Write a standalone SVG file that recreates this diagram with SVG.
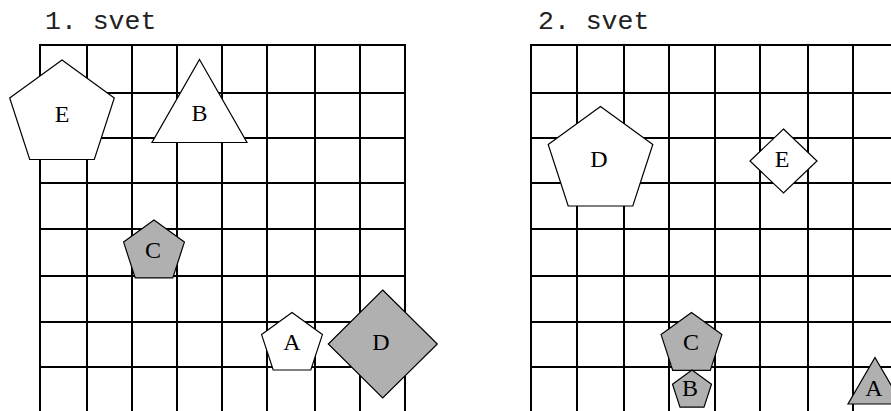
<svg xmlns="http://www.w3.org/2000/svg" width="891" height="411" viewBox="0 0 891 411">
<style>
.grid line{stroke:#000;stroke-width:2}
.shape{stroke:#000;stroke-width:1.2;stroke-linejoin:miter}
.white{fill:#fff}
.gray{fill:#b0b0b0}
text{font-family:"Liberation Mono","Courier New",monospace;fill:#000}
.title{font-size:26.5px;fill:#222}
.lbl{font-family:"Liberation Serif","Times New Roman",serif;font-size:24px;text-anchor:middle}
</style>
<rect width="891" height="411" fill="#fff"/>
<g id="title1"><text class="title" x="45" y="29">1. svet</text></g>
<g id="title2"><text class="title" x="538" y="29">2. svet</text></g>
<g id="grid1" class="grid">
<line x1="40" y1="45" x2="40" y2="411"/><line x1="87" y1="45" x2="87" y2="411"/><line x1="132" y1="45" x2="132" y2="411"/><line x1="177" y1="45" x2="177" y2="411"/><line x1="222" y1="45" x2="222" y2="411"/><line x1="267" y1="45" x2="267" y2="411"/><line x1="315" y1="45" x2="315" y2="411"/><line x1="360" y1="45" x2="360" y2="411"/><line x1="405" y1="45" x2="405" y2="411"/>
<line x1="39" y1="45" x2="406" y2="45"/><line x1="40" y1="93" x2="405" y2="93"/><line x1="40" y1="138" x2="405" y2="138"/><line x1="40" y1="183" x2="405" y2="183"/><line x1="40" y1="229" x2="405" y2="229"/><line x1="40" y1="276" x2="405" y2="276"/><line x1="40" y1="322" x2="405" y2="322"/><line x1="40" y1="367" x2="405" y2="367"/>
</g>
<g id="grid2" class="grid">
<line x1="531" y1="45" x2="531" y2="411"/><line x1="577" y1="45" x2="577" y2="411"/><line x1="624" y1="45" x2="624" y2="411"/><line x1="669" y1="45" x2="669" y2="411"/><line x1="715" y1="45" x2="715" y2="411"/><line x1="760" y1="45" x2="760" y2="411"/><line x1="808" y1="45" x2="808" y2="411"/><line x1="853" y1="45" x2="853" y2="411"/>
<line x1="530" y1="45" x2="891" y2="45"/><line x1="531" y1="93" x2="891" y2="93"/><line x1="531" y1="138" x2="891" y2="138"/><line x1="531" y1="183" x2="891" y2="183"/><line x1="531" y1="229" x2="891" y2="229"/><line x1="531" y1="276" x2="891" y2="276"/><line x1="531" y1="322" x2="891" y2="322"/><line x1="531" y1="367" x2="891" y2="367"/>
</g>
<g id="w1-E"><polygon class="shape white" points="62,60 114.3,98 94.3,159.5 29.7,159.5 9.7,98"/><text class="lbl" x="62" y="122">E</text></g>
<g id="w1-B"><polygon class="shape white" points="199.5,59.5 247,142.5 152,142.5"/><text class="lbl" x="199.5" y="121">B</text></g>
<g id="w1-C"><polygon class="shape gray" points="154,220 184.4,242.1 172.8,277.9 135.2,277.9 123.6,242.1"/><text class="lbl" x="153" y="258">C</text></g>
<g id="w1-A"><polygon class="shape white" points="292,312.5 322.4,334.6 310.8,370 273.2,370 261.6,334.6"/><text class="lbl" x="292" y="350">A</text></g>
<g id="w1-D"><polygon class="shape gray" points="382.7,290 437.3,344 382.7,398 328.3,344"/><text class="lbl" x="381" y="350">D</text></g>
<g id="w2-D"><polygon class="shape white" points="600.5,106.5 652.8,144.5 632.8,206 568.2,206 548.2,144.5"/><text class="lbl" x="599" y="167">D</text></g>
<g id="w2-E"><polygon class="shape white" points="783.5,129 817,161 783.5,193 750,161"/><text class="lbl" x="782" y="167">E</text></g>
<g id="w2-C"><polygon class="shape gray" points="691.5,312.5 721.9,334.6 710.3,370.4 672.7,370.4 661.1,334.6"/><text class="lbl" x="691" y="350">C</text></g>
<g id="w2-B"><polygon class="shape gray" points="692,370 711.5,384.2 704,407.1 680,407.1 672.5,384.2"/><text class="lbl" x="690" y="396">B</text></g>
<g id="w2-A"><polygon class="shape gray" points="875,357.5 902,404 848,404"/><text class="lbl" x="874" y="396">A</text></g>
</svg>
